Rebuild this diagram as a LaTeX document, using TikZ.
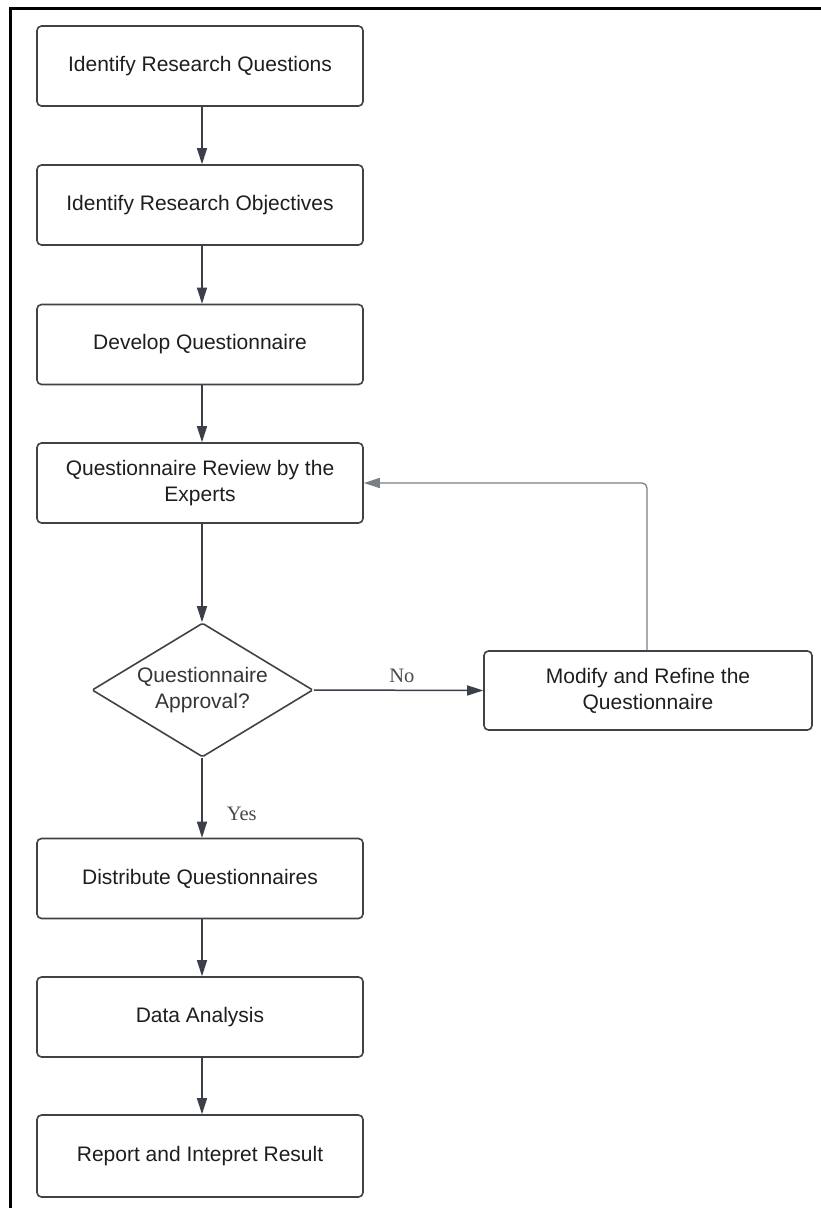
\documentclass[tikz,border=0pt]{standalone}
\usepackage{fontspec}
\setmainfont{Liberation Sans}
\newfontfamily\lblfont{Liberation Serif}
\usetikzlibrary{arrows.meta,shapes.geometric}
\definecolor{boxline}{HTML}{3F4247}
\definecolor{arrowcol}{HTML}{3A3F4A}
\definecolor{backcol}{HTML}{7A7E86}
\definecolor{txtcol}{HTML}{1E1E1E}
\definecolor{lblcol}{HTML}{4A4A4A}
\tikzset{
  stepbox/.style={draw=boxline, line width=1.6pt, rounded corners=4.5pt, minimum width=326pt, minimum height=80pt,
    align=center, text=txtcol, font=\fontsize{21}{26}\selectfont, inner sep=2pt},
  decision/.style={draw=boxline, line width=1.6pt, diamond, aspect=1.649, minimum width=221pt, minimum height=134pt,
    inner sep=0pt, align=center, text=txtcol!90!white, font=\fontsize{21}{26}\selectfont, rounded corners=1.5pt},
  flow/.style={draw=arrowcol, line width=1.5pt, -{Triangle[length=16pt,width=10pt]}},
  backflow/.style={draw=backcol, line width=1.3pt, rounded corners=5pt, -{Triangle[length=16pt,width=10pt]}},
  lbl/.style={text=lblcol, font=\lblfont\fontsize{20.5}{24}\selectfont, inner sep=0pt}
}
\begin{document}
\begin{tikzpicture}[x=1pt,y=-1pt]
\useasboundingbox (0,0) rectangle (821,1208);
\draw[line width=3pt, black] (10.5,1210) -- (10.5,8) -- (823,8);

\node[stepbox] (b1) at (200,66) {Identify Research Questions};
\node[stepbox] (b2) at (200,205) {Identify Research Objectives};
\node[stepbox] (b3) at (200,344.5) {Develop Questionnaire};
\node[stepbox] (b4) at (200,483) {Questionnaire Review by the\\Experts};
\node[decision] (d) at (202.5,690) {Questionnaire\\Approval?};
\node[stepbox, minimum width=328pt, minimum height=79pt] (m) at (648,690.5) {Modify and Refine the\\Questionnaire};
\node[stepbox] (b5) at (200,878.5) {Distribute Questionnaires};
\node[stepbox] (b6) at (200,1017) {Data Analysis};
\node[stepbox, minimum height=82pt] (b7) at (200,1156) {Report and Intepret Result};

\draw[flow] (b1.south -| 202,0) -- (b2.north -| 202,0);
\draw[flow] (b2.south -| 202,0) -- (b3.north -| 202,0);
\draw[flow] (b3.south -| 202,0) -- (b4.north -| 202,0);
\draw[flow] (b4.south -| 202,0) -- (d.north -| 202,0);
\draw[flow] (d.east) -- node[lbl, above=7pt, pos=0.52] (no) {No} (m.west);
\draw[flow] (d.south -| 202,0) -- node[lbl, right=24pt, pos=0.7] (yes) {Yes} (b5.north -| 202,0);
\draw[flow] (b5.south -| 202,0) -- (b6.north -| 202,0);
\draw[flow] (b6.south -| 202,0) -- (b7.north -| 202,0);
\draw[backflow] (m.north -| 647,0) -- (647,483) -- (b4.east);
\end{tikzpicture}
\end{document}
